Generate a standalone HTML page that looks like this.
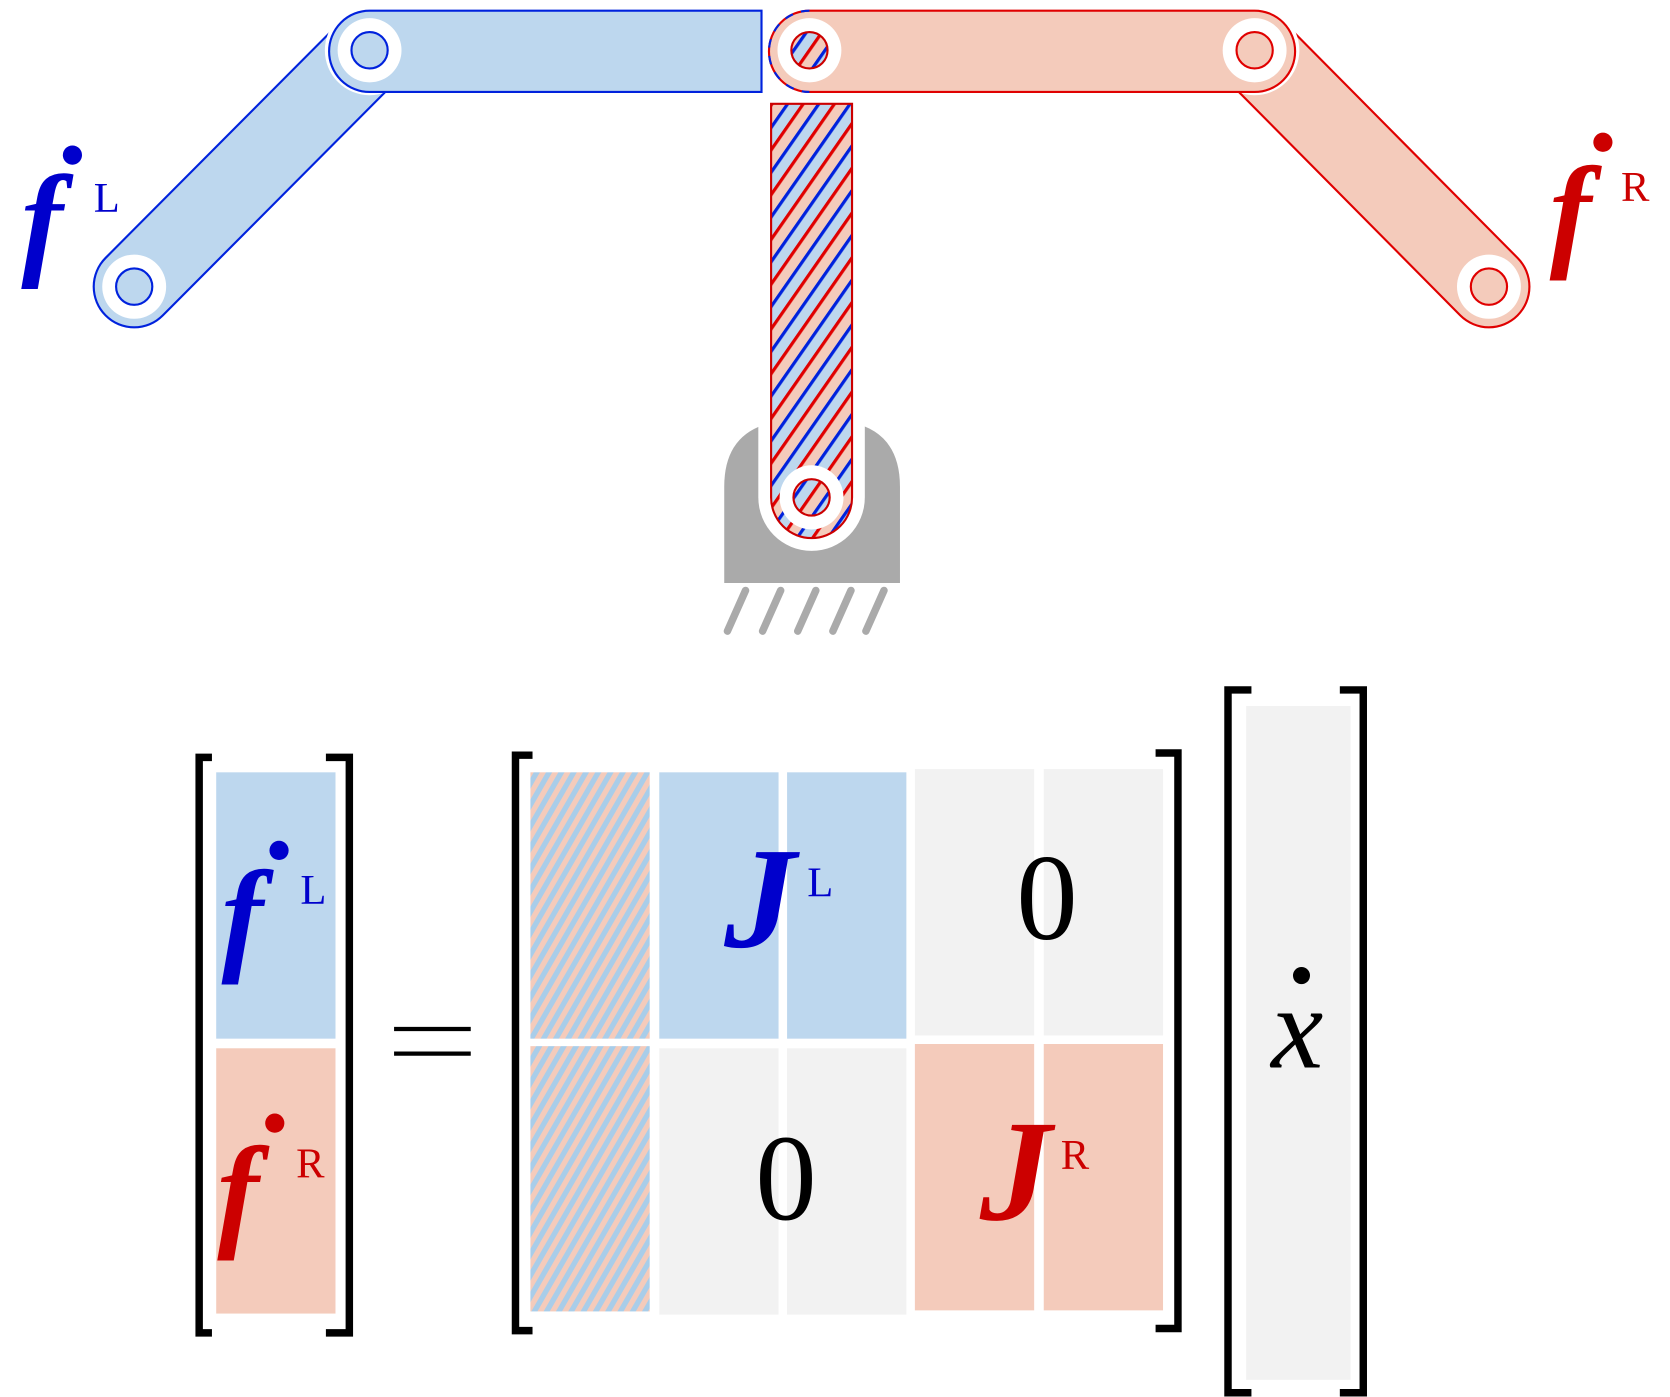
<!DOCTYPE html>
<html><head><meta charset="utf-8"><style>
html,body{margin:0;padding:0;background:#fff;width:1670px;height:1397px;overflow:hidden}
svg{display:block}
.f{font-family:"Liberation Serif",serif;font-style:italic;font-weight:bold}
.s{font-family:"Liberation Serif",serif}
</style></head><body>
<svg width="1670" height="1397" viewBox="0 0 1568 1306" preserveAspectRatio="none" xmlns="http://www.w3.org/2000/svg">
<defs>
<pattern id="hT" width="24" height="24" patternUnits="userSpaceOnUse" patternTransform="rotate(35)">
<rect x="0" y="0" width="12" height="24" fill="#f4cbbb"/><rect x="12" y="0" width="12" height="24" fill="#bdd7ee"/>
<rect x="0" y="0" width="3" height="24" fill="#e00000"/><rect x="12" y="0" width="3" height="24" fill="#0022dd"/>
</pattern>
<pattern id="hM" width="10" height="10" patternUnits="userSpaceOnUse" patternTransform="rotate(30)">
<rect x="0" y="0" width="5" height="10" fill="#f4cbbb"/><rect x="5" y="0" width="5" height="10" fill="#a9cde9"/>
</pattern>
</defs>

<g>
<path d="M680,545 L680,455 Q680,405 725,395 L800,395 Q845,405 845,455 L845,545 Z" fill="#aaa"/>
<g stroke="#aaa" stroke-width="7" stroke-linecap="round">
<line x1="700" y1="552" x2="683" y2="590"/><line x1="733" y1="552" x2="716" y2="590"/>
<line x1="766" y1="552" x2="749" y2="590"/><line x1="799" y1="552" x2="782" y2="590"/>
<line x1="830" y1="552" x2="813" y2="590"/>
</g>
</g>

<line x1="762" y1="90" x2="762" y2="465" stroke="#fff" stroke-width="100" stroke-linecap="round"/>
<g>
<path d="M724,97 L800,97 L800,465 A38,38 0 0 1 724,465 Z" fill="url(#hT)" stroke="#cc0000" stroke-width="2"/>
</g>

<g>
<line x1="347" y1="47" x2="126" y2="268" stroke="#0022dd" stroke-width="78" stroke-linecap="round"/>
<line x1="347" y1="47" x2="126" y2="268" stroke="#bdd7ee" stroke-width="74" stroke-linecap="round"/>
</g>
<g>
<line x1="1178" y1="47" x2="1398" y2="268" stroke="#e00000" stroke-width="78" stroke-linecap="round"/>
<line x1="1178" y1="47" x2="1398" y2="268" stroke="#f4cbbb" stroke-width="74" stroke-linecap="round"/>
</g>
<circle cx="347" cy="47" r="42" fill="#fff"/>
<circle cx="1178" cy="47" r="42" fill="#fff"/>
<circle cx="760" cy="47" r="42" fill="#fff"/>
<g>
<path d="M347,10 L715,10 L715,86 L347,86 A38,38 0 0 1 347,10 Z" fill="#bdd7ee" stroke="#0022dd" stroke-width="2"/>
</g>
<g>
<path d="M760,10 L1178,10 A38,38 0 0 1 1178,86 L760,86 A38,38 0 0 1 760,10 Z" fill="#f4cbbb" stroke="#e00000" stroke-width="2"/>
<path d="M760,10 A38,38 0 0 0 760,86" fill="none" stroke="#0022dd" stroke-width="2" stroke-dasharray="8 8"/>
</g>

<g>
<circle cx="347" cy="47" r="30" fill="#fff"/><circle cx="347" cy="47" r="17" fill="#bdd7ee" stroke="#0022dd" stroke-width="2"/>
<circle cx="126" cy="268" r="30" fill="#fff"/><circle cx="126" cy="268" r="17" fill="#bdd7ee" stroke="#0022dd" stroke-width="2"/>
<circle cx="1178" cy="47" r="30" fill="#fff"/><circle cx="1178" cy="47" r="17" fill="#f4cbbb" stroke="#e00000" stroke-width="2"/>
<circle cx="1398" cy="268" r="30" fill="#fff"/><circle cx="1398" cy="268" r="17" fill="#f4cbbb" stroke="#e00000" stroke-width="2"/>
<circle cx="760" cy="47" r="30" fill="#fff"/><circle cx="760" cy="47" r="17" fill="url(#hT)" stroke="#cc0000" stroke-width="2"/>
<circle cx="762" cy="465" r="30" fill="#fff"/><circle cx="762" cy="465" r="17" fill="url(#hT)" stroke="#cc0000" stroke-width="2"/>
</g>

<g fill="#0000cc">
<text class="f" x="20" y="245" font-size="118">f</text>
<circle cx="68" cy="145" r="9"/>
<text class="s" x="88" y="198" font-size="40">L</text>
</g>
<g fill="#cc0000">
<text class="f" x="1455" y="237" font-size="118">f</text>
<circle cx="1505" cy="133" r="9"/>
<text class="s" x="1522" y="188" font-size="40">R</text>
</g>

<g>
<rect x="203" y="722" width="112" height="249" fill="#bdd7ee"/>
<rect x="203" y="980" width="112" height="248" fill="#f4cbbb"/>
<path d="M199,708 L187,708 L187,1246 L199,1246" fill="none" stroke="#000" stroke-width="7"/>
<path d="M306,708 L328,708 L328,1246 L306,1246" fill="none" stroke="#000" stroke-width="7"/>
<g fill="#0000cc"><text class="f" x="208" y="895" font-size="118">f</text><circle cx="262" cy="795" r="9"/><text class="s" x="282" y="845" font-size="40">L</text></g>
<g fill="#cc0000"><text class="f" x="204" y="1153" font-size="118">f</text><circle cx="258" cy="1050" r="9"/><text class="s" x="278" y="1101" font-size="40">R</text></g>
</g>

<g stroke="#000" stroke-width="4">
<line x1="370" y1="962" x2="442" y2="962"/><line x1="370" y1="985" x2="442" y2="985"/>
</g>

<g>
<rect x="498" y="722" width="112" height="249" fill="url(#hM)"/>
<rect x="498" y="978" width="112" height="248" fill="url(#hM)"/>
<rect x="619" y="722" width="112" height="249" fill="#bdd7ee"/>
<rect x="739" y="722" width="112" height="249" fill="#bdd7ee"/>
<rect x="859" y="719" width="112" height="249" fill="#f2f2f2"/>
<rect x="980" y="719" width="112" height="249" fill="#f2f2f2"/>
<rect x="619" y="980" width="112" height="249" fill="#f2f2f2"/>
<rect x="739" y="980" width="112" height="249" fill="#f2f2f2"/>
<rect x="859" y="976" width="112" height="249" fill="#f4cbbb"/>
<rect x="980" y="976" width="112" height="249" fill="#f4cbbb"/>
<path d="M500,706 L484,706 L484,1244 L500,1244" fill="none" stroke="#000" stroke-width="7"/>
<path d="M1085,704 L1106,704 L1106,1242 L1085,1242" fill="none" stroke="#000" stroke-width="7"/>
<text class="f" x="680" y="885" font-size="135" fill="#0000cc">J</text>
<text class="s" x="758" y="838" font-size="40" fill="#0000cc">L</text>
<text class="s" x="983" y="878" font-size="115" fill="#000" text-anchor="middle">0</text>
<text class="s" x="738" y="1140" font-size="115" fill="#000" text-anchor="middle">0</text>
<text class="f" x="920" y="1140" font-size="135" fill="#cc0000">J</text>
<text class="s" x="996" y="1093" font-size="40" fill="#cc0000">R</text>
</g>

<g>
<rect x="1170" y="660" width="98" height="630" fill="#f2f2f2"/>
<path d="M1175,645 L1153,645 L1153,1302 L1175,1302" fill="none" stroke="#000" stroke-width="7"/>
<path d="M1258,645 L1280,645 L1280,1302 L1258,1302" fill="none" stroke="#000" stroke-width="7"/>
<text x="1218" y="998" font-size="110" fill="#000" text-anchor="middle" font-family="Liberation Serif, serif" font-style="italic">x</text>
<circle cx="1222" cy="912" r="8" fill="#000"/>
</g>
</svg>
</body></html>
